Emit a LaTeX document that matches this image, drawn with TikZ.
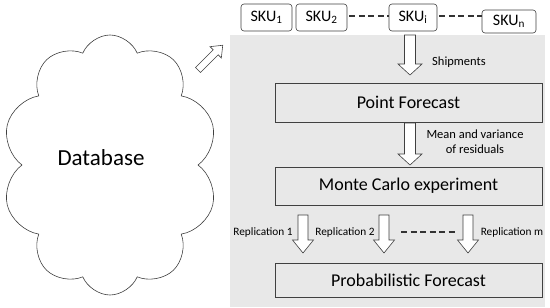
\documentclass[tikz,border=0pt]{standalone}
\usepackage{fontspec}
\setmainfont{Carlito}
\usetikzlibrary{shapes.symbols}
\definecolor{panel}{RGB}{232,232,232}
\definecolor{ink}{RGB}{64,64,64}
\tikzset{
  pics/hollow/.style n args={4}{code={
    \draw[ink, line width=0.6pt, fill=white, line join=miter]
      (-#2,0) -- (#2,0) -- (#2,#1-#4) -- (#3,#1-#4) -- (0,#1)
      -- (-#3,#1-#4) -- (-#2,#1-#4) -- cycle;}},
}
\begin{document}
\begin{tikzpicture}[x=1pt,y=-1pt,
  every node/.style={text=black},
  sku/.style={draw=ink, line width=0.6pt, rounded corners=3pt, inner sep=0pt, fill=white,
    font=\fontsize{16}{18}\selectfont},
  procbox/.style={draw=ink, line width=0.6pt, inner sep=0pt, minimum width=267pt,
    font=\fontsize{18}{20}\selectfont},
  lbl/.style={font=\fontsize{12.5}{15}\selectfont, inner sep=0pt},
  replbl/.style={font=\fontsize{11.3}{13}\selectfont, inner sep=0pt},
  dash line/.style={ink!80!black, line width=1.3pt, dash pattern=on 6pt off 3.5pt},
]
\useasboundingbox (0,0) rectangle (550,308);
% panel
\fill[panel] (230,35) rectangle (545,307);
% cloud
\node[cloud, draw=ink, line width=0.6pt, cloud puffs=10, cloud puff arc=135,
  cloud ignores aspect, minimum width=216pt, minimum height=260pt, inner sep=0pt]
  (db) at (110,165) {};
\node[font=\fontsize{23}{26}\selectfont] (dbt) at (101,158) {Database};
% diagonal arrow
\pic[rotate=135] at (198,70) {hollow={35}{3.5}{8}{10}};
% SKUs
\node[sku, minimum width=51pt, minimum height=27pt] (sku1) at (266.5,17.5) {SKU\textsubscript{1}};
\node[sku, minimum width=51pt, minimum height=27pt] (sku2) at (321.5,17.5) {SKU\textsubscript{2}};
\node[sku, minimum width=48pt, minimum height=27pt] (skui) at (413,17.5) {SKU\textsubscript{i}};
\node[sku, minimum width=54pt, minimum height=23pt] (skun) at (509,21.5) {SKU\textsubscript{n}};
\draw[dash line] ([xshift=2pt]sku2.east |- 0,16) -- (skui.west |- 0,16);
\draw[dash line] ([xshift=2pt]skui.east |- 0,16) -- (skun.west |- 0,16);
% process boxes
\node[procbox, minimum height=39pt] (pf) at (408.5,102.5) {Point Forecast};
\node[procbox, minimum height=38pt] (mc) at (408.5,186) {Monte Carlo experiment};
\node[procbox, minimum height=34pt] (prob) at (408.5,280) {Probabilistic Forecast};
% arrows
\pic at (410,35) {hollow={40}{5.5}{12}{11}};
\node[lbl, anchor=west] (ship) at (432,62) {Shipments};
\pic at (410,123) {hollow={42}{5.5}{12}{11}};
\node[lbl, align=center] (mv) at (475,141.5) {Mean and variance\\of residuals};
\pic at (303,215) {hollow={38}{5}{10.5}{13}};
\pic at (384,215) {hollow={38}{5}{10.5}{13}};
\pic at (468,215) {hollow={38}{5}{10.5}{13}};
\node[replbl] (r1) at (263,232) {Replication 1};
\node[replbl] (r2) at (345,232) {Replication 2};
\node[replbl] (rm) at (512,232) {Replication m};
\coordinate (d1) at (401,232);
\coordinate (d2) at (455,232);
\draw[dash line] (d1) -- (d2);
\end{tikzpicture}
\end{document}
